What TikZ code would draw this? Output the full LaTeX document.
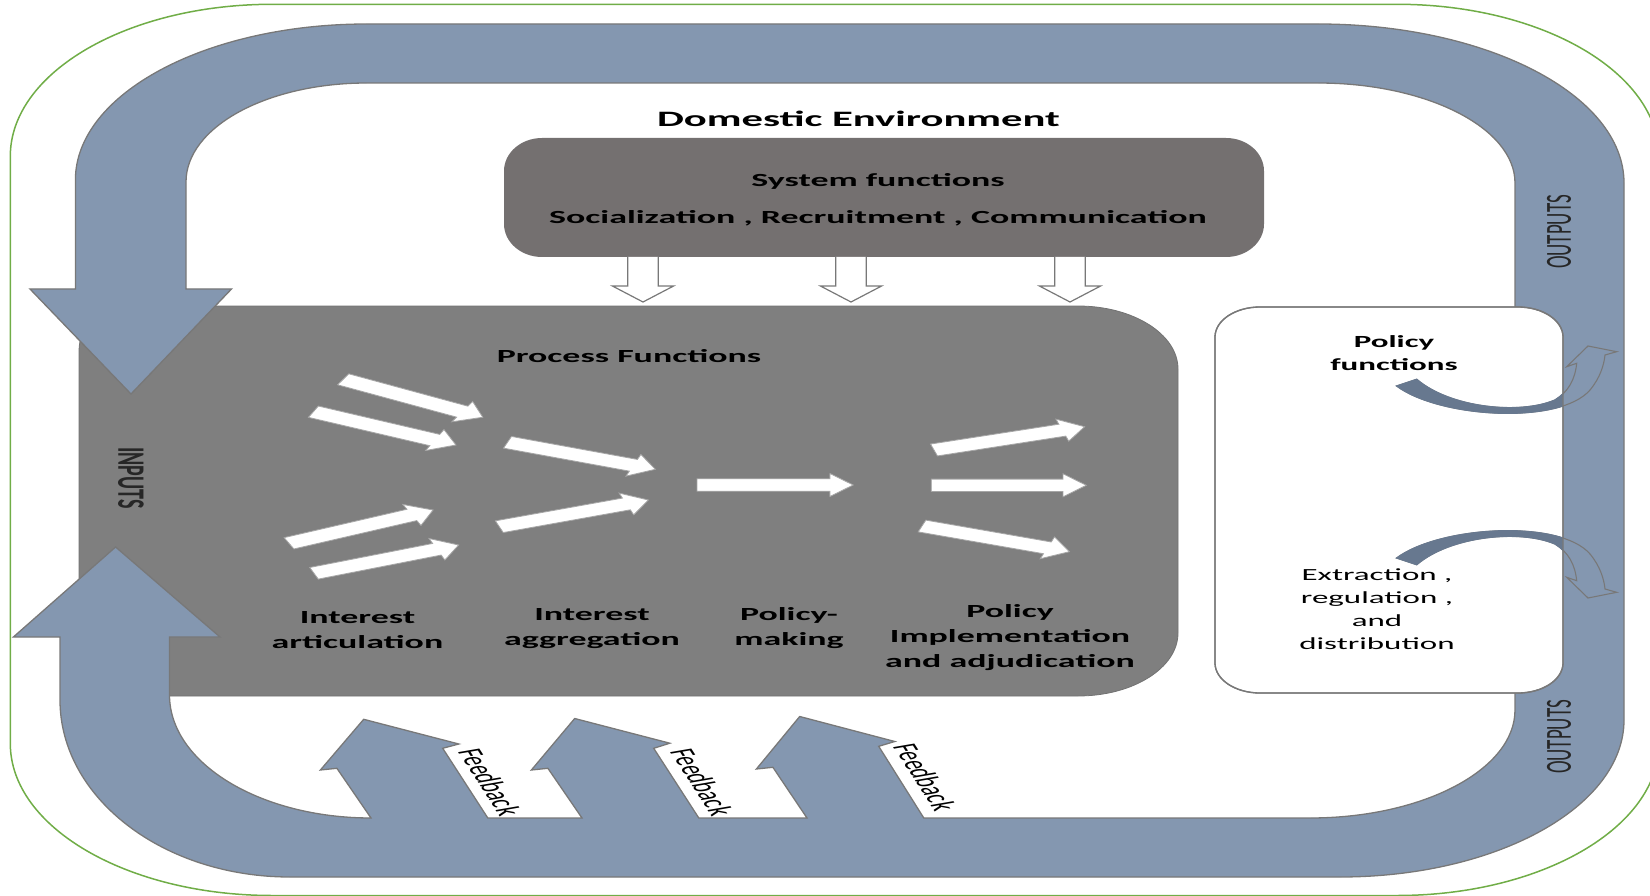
\documentclass[tikz,border=0pt]{standalone}
\usepackage{fontspec}
\setmainfont{Carlito}
\usetikzlibrary{calc}
\definecolor{band}{HTML}{8497B0}
\definecolor{bandline}{HTML}{787878}
\definecolor{procgray}{HTML}{7F7F7F}
\definecolor{sysgray}{HTML}{747070}
\definecolor{slate}{HTML}{67788F}
\definecolor{grn}{HTML}{70AD47}
\definecolor{arrline}{HTML}{A6A6A6}
% rounded rectangle with elliptical corners: x1 y1 x2 y2 rx ry
\newcommand\erectpath[6]{(#1,{#2+#6}) .. controls (#1,{#2+0.448*#6}) and ({#1+0.448*#5},#2) .. ({#1+#5},#2) -- ({#3-#5},#2) .. controls ({#3-0.448*#5},#2) and (#3,{#2+0.448*#6}) .. (#3,{#2+#6}) -- (#3,{#4-#6}) .. controls (#3,{#4-0.448*#6}) and ({#3-0.448*#5},#4) .. ({#3-#5},#4) -- ({#1+#5},#4) .. controls ({#1+0.448*#5},#4) and (#1,{#4-0.448*#6}) .. (#1,{#4-#6}) -- cycle}
% white block arrow from (#1,#2) to (#3,#4), shaped in the unstretched frame
\newcommand\procarrow[4]{%
  \pgfmathsetmacro\pax{(#3-#1)/1.94}%
  \pgfmathsetmacro\pay{#2-#4}%
  \pgfmathsetmacro\pang{atan2(\pay,\pax)}%
  \pgfmathsetmacro\plen{veclen(\pax,\pay)}%
  \pgfmathsetmacro\pbase{\plen-12}%
  \begin{scope}[shift={(#1,#2)},xscale=1.94,rotate=\pang]
    \filldraw[wbarrow] (0,-6.2) -- (\pbase,-6.2) -- (\pbase,-11.5) -- (\plen,0) -- (\pbase,11.5) -- (\pbase,6.2) -- (0,6.2) -- cycle;
  \end{scope}}
% hollow down arrow centred at x=#1
\newcommand\sysdownarrow[1]{%
  \filldraw[hollowarrow] ({#1-15.3},257) -- ({#1-15.3},286) -- ({#1-30.6},286) -- (#1,302) -- ({#1+30.6},286) -- ({#1+15.3},286) -- ({#1+15.3},257);}
\def\curvarrow{(1396.7,386) .. controls (1440,418) and (1560,425) .. (1590,390) .. controls (1600,378) and (1604,365) .. (1605,355) -- (1616.7,351.7) -- (1588,346) -- (1566.7,366.7) -- (1576.7,363.3) .. controls (1575,380) and (1568,392) .. (1555,400) .. controls (1520,415) and (1450,408) .. (1416.7,379.3) -- cycle}
\begin{document}
\begin{tikzpicture}[x=1pt,y=-1pt,
  wbarrow/.style={fill=white,draw=arrline,line width=0.8pt,line join=miter},
  hollowarrow/.style={fill=white,draw=bandline,line width=1.2pt,line join=miter},
  lbl/.style={font=\bfseries\fontsize{18.5}{22}\selectfont,xscale=1.94,inner sep=0pt,anchor=base,text=black},
  reg/.style={font=\fontsize{17}{20}\selectfont,xscale=1.94,inner sep=0pt,anchor=base,text=black},
  fb/.style={font=\fontsize{18}{20}\selectfont,xscale=1.94,rotate=-71.5,inner sep=0pt,text=black},
  vert/.style={font=\fontsize{19}{20}\selectfont,xscale=1.94,inner sep=0pt,text=black!85}]
\useasboundingbox (0,0) rectangle (1650,896);
% outer green frame
\draw[grn,line width=1.5pt] \erectpath{10.3}{4.3}{1659}{895.5}{262}{152};
% process functions box
\filldraw[fill=procgray,draw=procgray!90!black,line width=0.8pt]
  (79,351) .. controls (79,326.2) and (99.2,306) .. (124,306) -- (1078,306)
  .. controls (1133.2,306) and (1178,334.2) .. (1178,369) -- (1178,633)
  .. controls (1178,667.8) and (1133.2,696) .. (1078,696) -- (124,696)
  .. controls (99.2,696) and (79,675.8) .. (79,651) -- cycle;
% system functions box
\fill[sysgray] \erectpath{504}{138}{1264}{257}{38}{33};
% hollow arrows from system box
\sysdownarrow{643}
\sysdownarrow{851}
\sysdownarrow{1070}
% big blue loop with inputs and feedback arrows
\filldraw[fill=band,draw=bandline,line width=1.3pt,line join=miter]
  (131,394) -- (30,289) -- (75.4,289) -- (75.4,180)
  .. controls (75.4,94) and (206,24) .. (367,24) -- (1318,24)
  .. controls (1487,24) and (1624,95) .. (1624,183) -- (1624,720)
  .. controls (1624,806.7) and (1496.8,877) .. (1340,877) -- (290,877)
  .. controls (163,877) and (60,797.7) .. (60,700)
  -- (60,637) -- (13.4,637) -- (115.6,547) -- (220,637) -- (169.5,637) -- (169.5,695)
  .. controls (169.5,763) and (260,818) .. (371,818)
  -- (336.9,768.3) -- (320.4,770) -- (363.7,719.3) -- (458.8,744) -- (442.7,748.3) -- (487.8,818)
  -- (582,818) -- (547.9,768.3) -- (531.4,770) -- (574.7,718.5) -- (669.8,743.2) -- (653.7,748.3) -- (698.8,818)
  -- (807,818) -- (772.9,767.3) -- (756.4,769) -- (799.7,716.5) -- (894.8,741.5) -- (878.7,746.3) -- (923.8,818)
  -- (1310,818)
  .. controls (1423,818) and (1515,769.6) .. (1515,710) -- (1515,183)
  .. controls (1515,128) and (1427,83) .. (1318,83) -- (367,83)
  .. controls (267,83) and (186,127) .. (186,182)
  -- (186,289) -- (231.5,289) -- cycle;
% policy box
\filldraw[fill=white,draw=bandline,line width=1.3pt] \erectpath{1215}{307}{1563}{693}{45}{30};
% curved arrows
\filldraw[fill=band,draw=bandline,line width=1.1pt,line join=miter] \curvarrow;
\begin{scope}[shift={(0,944)},yscale=-1]
  \filldraw[fill=band,draw=bandline,line width=1.1pt,line join=miter] \curvarrow;
\end{scope}
\begin{scope}
  \clip \erectpath{1215}{307}{1563}{693}{45}{30};
  \filldraw[fill=slate,draw=slate,line width=1.3pt] \curvarrow;
  \begin{scope}[shift={(0,944)},yscale=-1]
    \filldraw[fill=slate,draw=slate,line width=1.3pt] \curvarrow;
  \end{scope}
\end{scope}
\draw[bandline,line width=1.3pt] \erectpath{1215}{307}{1563}{693}{45}{30};
% white process arrows
\procarrow{343.2}{379.3}{483}{417.3}
\procarrow{313.4}{411.7}{456}{445}
\procarrow{507.5}{442.3}{655.4}{469.3}
\procarrow{289}{543.3}{433.2}{510}
\procarrow{314}{573.3}{458.7}{545}
\procarrow{499.3}{526.7}{648.4}{500}
\procarrow{697}{485}{853.2}{485}
\procarrow{934}{450}{1084.7}{426.7}
\procarrow{931.3}{485.3}{1086.3}{485.3}
\procarrow{922}{526}{1069.5}{551.7}
% texts
\node[lbl,font=\bfseries\fontsize{22}{26}\selectfont] (dom) at (858.5,126.5) {Domestic Environment};
\node[lbl] (sys1) at (878,187) {System functions};
\node[lbl] (sys2) at (878,224) {Socialization , Recruitment , Communication};
\node[lbl] (proc) at (629,362) {Process Functions};
\node[lbl] (ia1) at (357.5,623) {Interest};
\node[lbl] (ia2) at (357.5,648) {articulation};
\node[lbl] (ig1) at (592,620) {Interest};
\node[lbl] (ig2) at (592,645) {aggregation};
\node[lbl] (pm1) at (789,620) {Policy-};
\node[lbl] (pm2) at (789,645) {making};
\node[lbl] (pi1) at (1010,617) {Policy};
\node[lbl] (pi2) at (1010,642) {Implementation};
\node[lbl] (pi3) at (1010,667) {and adjudication};
\node[lbl,font=\bfseries\fontsize{17}{20}\selectfont] (pf1) at (1394,347) {Policy};
\node[lbl,font=\bfseries\fontsize{17}{20}\selectfont] (pf2) at (1394,370) {functions};
\node[reg] (ex1) at (1377,580) {Extraction ,};
\node[reg] (ex2) at (1377,603) {regulation ,};
\node[reg] (ex3) at (1377,626) {and};
\node[reg] (ex4) at (1377,649) {distribution};
\node[vert,font=\bfseries\fontsize{20}{22}\selectfont,rotate=-90] (inp) at (131,478) {INPUTS};
\node[vert,rotate=90] (out1) at (1559,232) {OUTPUTS};
\node[vert,rotate=90] (out2) at (1559,737) {OUTPUTS};
\node[fb] (fb1) at (490,782) {Feedback};
\node[fb] (fb2) at (702,782) {Feedback};
\node[fb] (fb3) at (925,777) {Feedback};
\end{tikzpicture}
\end{document}
